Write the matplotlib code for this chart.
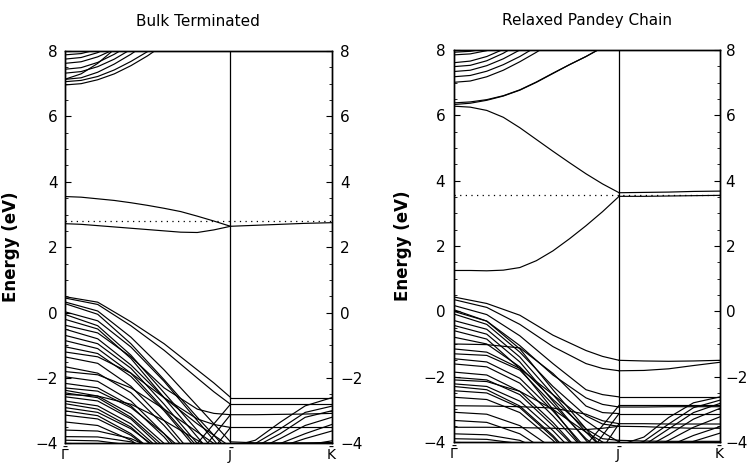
import numpy as np
import matplotlib
matplotlib.use('Agg')
import matplotlib.pyplot as plt
from matplotlib.ticker import MultipleLocator

nan = np.nan

# k-points along the path (Gamma -> J, J -> K)
K_FINE = [0.0, 0.1, 0.2, 0.3, 0.4, 0.5, 0.6, 0.7, 0.8, 0.9, 1.0]
K_GJ = [0.0, 0.2, 0.4, 0.6, 0.8, 0.9, 1.0]
K_JK = [1.0, 1.15, 1.3, 1.45, 1.61]
K_LABELS = [r'$\bar{\Gamma}$', r'$\bar{\mathrm{J}}$', r'$\bar{\mathrm{K}}$']
TITLES = ['Bulk Terminated', 'Relaxed Pandey Chain']

# ---- Bulk terminated ----
BT_EF = 2.80
BT_COND = [
    [6.96, 7.00, 7.12, 7.30, 7.55, 7.85, 8.20, 9.0, 9.0, 9.0, 9.0],
    [7.06, 7.10, 7.22, 7.42, 7.68, 7.98, 8.35, 9.0, 9.0, 9.0, 9.0],
    [7.13, 7.18, 7.35, 7.60, 7.90, 8.25, 9.00, 9.0, 9.0, 9.0, 9.0],
    [7.13, 7.30, 7.62, 8.05, 8.60, 9.00, 9.00, 9.0, 9.0, 9.0, 9.0],
    [7.32, 7.37, 7.52, 7.75, 8.05, 9.00, 9.00, 9.0, 9.0, 9.0, 9.0],
    [7.44, 7.49, 7.65, 7.90, 8.20, 9.00, 9.00, 9.0, 9.0, 9.0, 9.0],
    [7.62, 7.67, 7.82, 8.05, 9.00, 9.00, 9.00, 9.0, 9.0, 9.0, 9.0],
    [7.75, 7.80, 7.95, 8.20, 9.00, 9.00, 9.00, 9.0, 9.0, 9.0, 9.0],
    [7.88, 7.92, 8.05, 9.00, 9.00, 9.00, 9.00, 9.0, 9.0, 9.0, 9.0],
]
BT_SURF = [
    [3.55, 3.53, 3.48, 3.43, 3.36, 3.28, 3.19, 3.09, 2.95, 2.80, 2.64],
    [2.72, 2.70, 2.66, 2.62, 2.58, 2.54, 2.50, 2.46, 2.45, 2.53, 2.64],
]
BT_SURF_JK = [
    [2.64, 2.67, 2.70, 2.73, 2.75],
]
BT_VAL = [
    [0.49, 0.32, -0.28, -0.95, -1.75, -2.15, -2.59],
    [0.45, 0.25, -0.40, -1.15, -2.00, -2.42, -2.80],
    [0.33, 0.05, -0.75, -1.75, -2.85, -3.40, -3.95],
    [0.28, -0.05, -0.95, -2.05, -3.20, -3.75, -4.30],
    [0.03, -0.25, -1.05, -2.10, -3.30, -3.90, -4.50],
    [-0.05, -0.40, -1.30, -2.45, -3.60, -4.20, -4.80],
    [-0.20, -0.50, -1.40, -2.60, -3.80, -4.40, -5.00],
    [-0.38, -0.62, -1.35, -2.30, -2.95, -3.08, -3.12],
    [-0.50, -0.80, -1.60, -2.60, -3.25, -3.42, -3.51],
    [-0.69, -0.95, -1.70, -2.80, -4.00, -4.60, -5.00],
    [-0.85, -1.10, -1.85, -2.95, -4.10, -4.80, -5.00],
    [-1.04, -1.25, -1.95, -3.00, -4.20, -5.00, -5.00],
    [-1.20, -1.35, -1.85, -2.60, -3.40, -3.75, -4.10],
    [-1.35, -1.55, -2.25, -3.30, -4.50, -5.00, -5.00],
    [-1.65, -1.85, -2.45, -3.45, -4.60, -5.00, -5.00],
    [-1.80, -1.90, -2.30, -2.95, -3.65, -4.00, -4.30],
    [-1.96, -2.10, -2.70, -3.70, -4.90, -5.00, -5.00],
    [-2.16, -2.30, -2.85, -3.80, -5.00, -5.00, -5.00],
    [-2.30, -2.40, -2.90, -3.70, -4.60, -5.00, -5.00],
    [-2.37, -2.55, -3.10, -4.00, -5.00, -5.00, -5.00],
    [-2.45, -2.60, -3.20, -4.10, -5.00, -5.00, -5.00],
    [-2.50, -2.55, -2.80, -3.30, -3.90, -4.20, -4.50],
    [-2.57, -2.70, -3.25, -4.20, -5.00, -5.00, -5.00],
    [-2.70, -2.85, -3.40, -4.30, -5.00, -5.00, -5.00],
    [-2.78, -2.95, -3.50, -4.40, -5.00, -5.00, -5.00],
    [-2.90, -3.05, -3.55, -4.30, -5.00, -5.00, -5.00],
    [-3.00, -3.15, -3.70, -4.50, -5.00, -5.00, -5.00],
    [-3.13, -3.25, -3.75, -4.50, -5.00, -5.00, -5.00],
    [-3.34, -3.45, -3.90, -4.60, -5.00, -5.00, -5.00],
    [-3.59, -3.62, -3.85, -4.30, -5.00, -5.00, -5.00],
    [-3.79, -3.80, -3.95, -4.30, -5.00, -5.00, -5.00],
    [-3.90, -3.92, -4.05, -4.40, -5.00, -5.00, -5.00],
]
BT_FOLD = [
    [nan, nan, nan, nan, -4.00, -3.40, -2.80],
    [nan, nan, nan, nan, -4.40, -3.75, -3.12],
    [nan, nan, nan, nan, -4.80, -4.15, -3.51],
]
BT_JK = [
    [-2.60, -2.60, -2.60, -2.60, -2.60],
    [-2.80, -2.80, -2.80, -2.80, -2.80],
    [-3.12, -3.12, -3.11, -3.10, -3.08],
    [-3.51, -3.51, -3.51, -3.51, -3.51],
    [-3.95, -3.98, -3.98, -3.98, -3.97],
    [-4.10, -3.90, -3.35, -2.85, -2.60],
    [-4.20, -4.00, -3.55, -3.05, -2.86],
    [-4.30, -4.10, -3.70, -3.20, -3.00],
    [-4.40, -4.20, -3.85, -3.45, -3.20],
    [-4.50, -4.30, -4.00, -3.70, -3.42],
    [-4.60, -4.40, -4.10, -3.85, -3.62],
    [-4.70, -4.50, -4.25, -4.05, -3.92],
]

# ---- Relaxed Pandey chain ----
PC_EF = 3.57
PC_COND = [
    [6.38, 6.41, 6.48, 6.60, 6.78, 7.02, 7.29, 7.55, 7.80, 8.08, 8.35],
    [6.33, 6.37, 6.46, 6.59, 6.77, 7.01, 7.28, 7.55, 7.80, 8.08, 8.35],
    [7.01, 7.05, 7.18, 7.38, 7.64, 7.93, 8.25, 9.0, 9.0, 9.0, 9.0],
    [7.18, 7.22, 7.35, 7.55, 7.80, 8.10, 9.00, 9.0, 9.0, 9.0, 9.0],
    [7.34, 7.38, 7.52, 7.73, 8.00, 9.00, 9.00, 9.0, 9.0, 9.0, 9.0],
    [7.49, 7.53, 7.67, 7.90, 8.20, 9.00, 9.00, 9.0, 9.0, 9.0, 9.0],
    [7.61, 7.66, 7.80, 8.02, 9.00, 9.00, 9.00, 9.0, 9.0, 9.0, 9.0],
    [7.85, 7.88, 7.98, 8.15, 9.00, 9.00, 9.00, 9.0, 9.0, 9.0, 9.0],
    [7.93, 7.96, 8.05, 9.00, 9.00, 9.00, 9.00, 9.0, 9.0, 9.0, 9.0],
]
PC_SURF = [
    [6.28, 6.25, 6.15, 5.94, 5.62, 5.26, 4.90, 4.55, 4.21, 3.90, 3.63],
    [1.25, 1.25, 1.24, 1.26, 1.34, 1.55, 1.85, 2.22, 2.62, 3.05, 3.52],
]
PC_SURF_JK = [
    [3.63, 3.64, 3.65, 3.67, 3.68],
    [3.52, 3.52, 3.53, 3.54, 3.55],
]
PC_VAL = [
    [0.44, 0.24, -0.12, -0.73, -1.20, -1.38, -1.50],
    [0.36, 0.12, -0.40, -1.08, -1.60, -1.75, -1.82],
    [0.18, -0.10, -0.75, -1.60, -2.40, -2.55, -2.62],
    [0.05, -0.30, -1.05, -1.95, -2.65, -2.85, -2.93],
    [0.00, -0.30, -1.15, -2.40, -3.60, -4.20, -4.80],
    [-0.08, -0.40, -1.25, -2.30, -3.20, -3.45, -3.52],
    [-0.28, -0.55, -1.40, -2.55, -3.70, -4.20, -4.60],
    [-0.43, -0.70, -1.55, -2.75, -3.95, -4.50, -5.00],
    [-0.59, -0.85, -1.75, -3.00, -4.30, -5.00, -5.00],
    [-0.79, -1.00, -1.70, -2.70, -3.60, -3.90, -3.95],
    [-1.00, -1.02, -1.12, -1.90, -2.90, -3.10, -3.13],
    [-1.15, -1.25, -1.75, -2.55, -3.35, -3.70, -4.00],
    [-1.30, -1.35, -1.80, -2.85, -3.90, -4.30, -4.70],
    [-1.45, -1.55, -2.05, -3.05, -4.20, -4.80, -5.00],
    [-1.61, -1.70, -2.20, -3.20, -4.30, -5.00, -5.00],
    [-1.86, -1.95, -2.45, -3.40, -4.50, -5.00, -5.00],
    [-2.02, -2.10, -2.55, -3.50, -4.50, -5.00, -5.00],
    [-2.10, -2.15, -2.45, -3.00, -3.70, -4.00, -4.30],
    [-2.22, -2.30, -2.75, -3.65, -4.70, -5.00, -5.00],
    [-2.30, -2.40, -2.90, -3.80, -4.90, -5.00, -5.00],
    [-2.43, -2.50, -2.95, -3.85, -5.00, -5.00, -5.00],
    [-2.63, -2.70, -3.10, -3.95, -5.00, -5.00, -5.00],
    [-2.89, -2.90, -2.92, -2.96, -3.15, -3.35, -3.44],
    [-3.09, -3.15, -3.50, -4.20, -5.00, -5.00, -5.00],
    [-3.34, -3.40, -3.75, -4.40, -5.00, -5.00, -5.00],
    [-3.55, -3.55, -3.56, -3.58, -3.62, -3.58, -3.52],
    [-3.75, -3.78, -3.95, -4.40, -5.00, -5.00, -5.00],
    [-3.90, -3.92, -4.05, -4.30, -5.00, -5.00, -5.00],
]
PC_FOLD = [
    [nan, nan, nan, nan, -4.10, -3.50, -2.88],
    [nan, nan, nan, nan, -4.50, -3.80, -3.13],
    [nan, nan, nan, nan, -4.90, -4.20, -3.44],
]
PC_JK = [
    [-1.50, -1.52, -1.53, -1.52, -1.50],
    [-1.82, -1.81, -1.76, -1.66, -1.56],
    [-2.62, -2.62, -2.62, -2.62, -2.62],
    [-2.88, -2.88, -2.88, -2.88, -2.88],
    [-2.93, -2.93, -2.92, -2.92, -2.92],
    [-3.13, -3.13, -3.13, -3.13, -3.13],
    [-3.44, -3.44, -3.45, -3.45, -3.45],
    [-3.52, -3.53, -3.56, -3.58, -3.58],
    [-3.95, -3.97, -3.98, -3.98, -3.98],
    [-4.10, -3.85, -3.25, -2.80, -2.62],
    [-4.20, -3.98, -3.45, -2.95, -2.72],
    [-4.30, -4.10, -3.60, -3.10, -2.82],
    [-4.40, -4.20, -3.78, -3.30, -2.97],
    [-4.50, -4.30, -3.95, -3.55, -3.23],
    [-4.60, -4.42, -4.12, -3.80, -3.53],
    [-4.70, -4.52, -4.28, -3.98, -3.73],
]

plt.rcParams['font.family'] = ['DejaVu Sans']
plt.rcParams['mathtext.fontset'] = 'dejavusans'

LW = 0.85


def style_yaxis(axis_obj, side, pad):
    axis_obj.yaxis.set_major_locator(MultipleLocator(2))
    axis_obj.yaxis.set_minor_locator(MultipleLocator(0.5))
    left = side == 'left'
    axis_obj.tick_params(axis='y', which='both', direction='in',
                         left=left, labelleft=left, right=not left, labelright=not left,
                         labelsize=11, pad=pad)
    axis_obj.tick_params(axis='y', which='major', length=4.5)
    axis_obj.tick_params(axis='y', which='minor', length=2.5)


def draw_panel(ax, title, fine_bands, gj_bands, jk_bands, ef, pads, label_x):
    for band in fine_bands:
        ax.plot(K_FINE, band, color='k', lw=LW)
    for band in gj_bands:
        ax.plot(K_GJ, band, color='k', lw=LW)
    for band in jk_bands:
        ax.plot(K_JK, band, color='k', lw=LW)
    ax.axvline(K_GJ[-1], color='k', lw=0.9)
    ax.axhline(ef, color='k', lw=0.9, ls=(0, (1, 3.5)))

    ax.set_xlim(K_GJ[0], K_JK[-1])
    ax.set_ylim(-4, 8)
    ax.set_xticks([K_GJ[0], K_GJ[-1], K_JK[-1]])
    ax.set_xticklabels(K_LABELS, fontsize=10)
    ax.tick_params(axis='x', length=0, pad=2)
    style_yaxis(ax, 'left', pads[0])

    # right-hand energy scale
    axr = ax.twinx()
    axr.set_ylim(-4, 8)
    style_yaxis(axr, 'right', pads[1])

    for a in (ax, axr):
        for sp in a.spines.values():
            sp.set_linewidth(1.0)

    ax.set_ylabel('Energy (eV)', fontsize=12, fontweight='bold')
    ax.yaxis.set_label_coords(label_x, 0.5)
    ax.set_title(title, fontsize=11, pad=18)


fig = plt.figure(figsize=(7.52, 4.68), dpi=100)
ax1 = fig.add_axes([0.0858, 0.0524, 0.3553, 0.8387])
ax2 = fig.add_axes([0.6033, 0.0556, 0.3541, 0.8376])

draw_panel(ax1, TITLES[0], BT_COND + BT_SURF, BT_VAL + BT_FOLD,
           BT_SURF_JK + BT_JK, BT_EF, (5, 6), -0.165)
draw_panel(ax2, TITLES[1], PC_COND + PC_SURF, PC_VAL + PC_FOLD,
           PC_SURF_JK + PC_JK, PC_EF, (6, 4), -0.158)

fig.savefig('out.png', dpi=100)
